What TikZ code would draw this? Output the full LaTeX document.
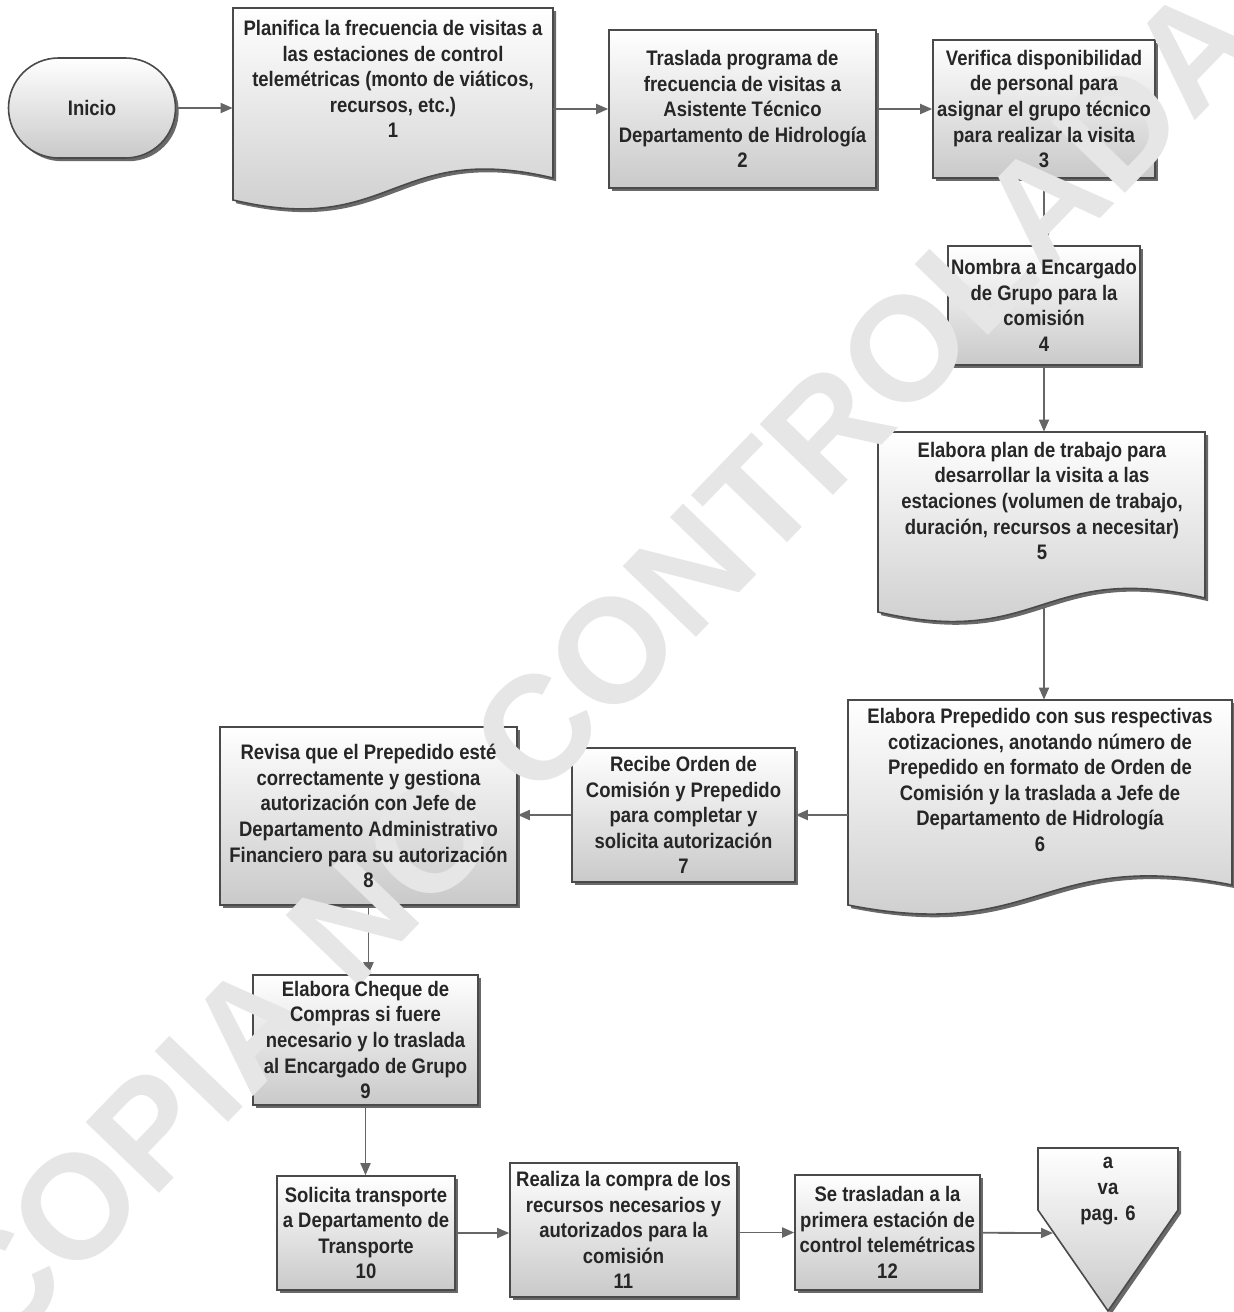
\documentclass[tikz,border=0pt]{standalone}
\usepackage{fontspec}
\setmainfont{Liberation Sans}[FakeStretch=0.88]
\newfontfamily\wmfont{Liberation Sans}
\usetikzlibrary{shadows,arrows.meta}
\definecolor{edge}{HTML}{4A4A4A}
\definecolor{wire}{HTML}{666666}
\definecolor{wmgray}{HTML}{E6E6E6}
\tikzset{
  x=0.5pt, y=-0.5pt,
  txt/.style={font=\bfseries\fontsize{10.5}{12.8}\selectfont, align=center, text=black!85, inner sep=0pt},
  sz/.style 2 args={minimum width={(#1)*0.5pt}, minimum height={(#2)*0.5pt}},
  boxfill/.style={top color=white, middle color=gray!6, bottom color=gray!42},
  boxshadow/.style={drop shadow={shadow xshift=1.6pt, shadow yshift=-1.6pt, fill=black!65, opacity=0.9}},
  stepbox/.style={rectangle, draw=edge, line width=0.8pt, inner sep=0pt, boxfill, boxshadow},
  shapeline/.style={draw=edge, line width=0.8pt, boxfill, boxshadow},
  anchorbox/.style={rectangle, inner sep=0pt},
  arr/.style={draw=wire, line width=0.9pt, -{Triangle[length=6pt,width=5pt]}},
  wmark/.style={font=\wmfont\bfseries\fontsize{74}{74}\selectfont, text=wmgray}
}
% document shape: name, left x, top y, right x, bottom-left y, bottom-right y
\newcommand\docpath[6]{%
  \path[shapeline] (#2,#3) -- (#4,#3) -- (#4,#6)
    .. controls ({(#2+#4)/2},{#6-38}) and ({(#2+#4)/2},{#5+38}) .. (#2,#5) -- cycle;
  \node[anchorbox, sz={#4-#2}{(#5+#6)/2-#3}] (#1) at ({(#2+#4)/2},{(#3+(#5+#6)/2)/2}) {};
}
\begin{document}
\begin{tikzpicture}
\useasboundingbox[fill=white] (0,0) rectangle (1234,1312);

% ---- shapes ----
\node[stepbox, rounded corners=25pt, sz={167}{100}] (inicio) at (92,108) {};
\docpath{n1}{233}{8}{553}{200}{178}
\node[stepbox, sz={267}{158}] (n2) at (742.5,109) {};
\node[stepbox, sz={222}{138}] (n3) at (1044,109) {};
\node[stepbox, sz={192}{119}] (n4) at (1044,305.5) {};
\docpath{n5}{878}{432}{1205}{612}{598}
\docpath{n6}{848}{700}{1232}{905}{885}
\node[stepbox, sz={223}{134}] (n7) at (683.5,815) {};
\node[stepbox, sz={297}{178}] (n8) at (368.5,816) {};
\node[stepbox, sz={225}{130}] (n9) at (365.5,1040) {};
\node[stepbox, sz={178}{114}] (n10) at (366,1233) {};
\node[stepbox, sz={227}{134}] (n11) at (623.5,1230) {};
\node[stepbox, sz={185}{115}] (n12) at (887.5,1232.5) {};
% off-page connector
\path[shapeline] (1038,1148) -- (1178,1148) -- (1178,1210) -- (1108,1311) -- (1038,1210) -- cycle;
\coordinate (offin) at (1053,1233);

% ---- connectors ----
\draw[arr] (inicio) -- (n1.west |- inicio);
\draw[arr] (n1.east |- n2) -- (n2);
\draw[arr] (n2) -- (n3);
\draw[arr] (n3) -- (n4);
\draw[arr] (n4) -- (n4 |- n5.north);
\draw[arr] (n5.south -| n4) -- (n6.north -| n4);
\draw[arr] (n6.west |- n7) -- (n7);
\draw[arr] (n7.west) -- (n8.east |- n7.west);
\draw[arr] (n8.south) -- (n8.south |- n9.north);
\draw[arr] (n9) -- (n9 |- n10.north);
\draw[arr] (n10) -- (n10 -| n11.west);
\draw[arr] (n11.east |- n12) -- (n12);
\draw[arr] (n12) -- (offin);

% ---- watermark, under the captions ----
\node[wmark, rotate=46] (wm) at (596,668) {COPIA NO CONTROLADA};

% ---- captions ----
\node[txt] (t0) at (inicio) {Inicio};
\node[txt] (t1) at (393,79) {Planifica la frecuencia de visitas a\\las estaciones de control\\telemétricas (monto de viáticos,\\recursos, etc.)\\1};
\node[txt] (t2) at (n2) {Traslada programa de\\frecuencia de visitas a\\Asistente Técnico\\Departamento de Hidrología\\2};
\node[txt] (t3) at (n3) {Verifica disponibilidad\\de personal para\\asignar el grupo técnico\\para realizar la visita\\3};
\node[txt] (t4) at (n4) {Nombra a Encargado\\de Grupo para la\\comisión\\4};
\node[txt] (t5) at (1042,501) {Elabora plan de trabajo para\\desarrollar la visita a las\\estaciones (volumen de trabajo,\\duración, recursos a necesitar)\\5};
\node[txt] (t6) at (1040,780) {Elabora Prepedido con sus respectivas\\cotizaciones, anotando número de\\Prepedido en formato de Orden de\\Comisión y la traslada a Jefe de\\Departamento de Hidrología\\6};
\node[txt] (t7) at (n7) {Recibe Orden de\\Comisión y Prepedido\\para completar y\\solicita autorización\\7};
\node[txt] (t8) at (n8) {Revisa que el Prepedido esté\\correctamente y gestiona\\autorización con Jefe de\\Departamento Administrativo\\Financiero para su autorización\\8};
\node[txt] (t9) at (n9) {Elabora Cheque de\\Compras si fuere\\necesario y lo traslada\\al Encargado de Grupo\\9};
\node[txt] (t10) at (n10) {Solicita transporte\\a Departamento de\\Transporte\\10};
\node[txt] (t11) at (n11) {Realiza la compra de los\\recursos necesarios y\\autorizados para la\\comisión\\11};
\node[txt] (t12) at (n12) {Se trasladan a la\\primera estación de\\control telemétricas\\12};
\node[txt] (off) at (1108,1191) {a\\va\\pag. 6};
\end{tikzpicture}
\end{document}
